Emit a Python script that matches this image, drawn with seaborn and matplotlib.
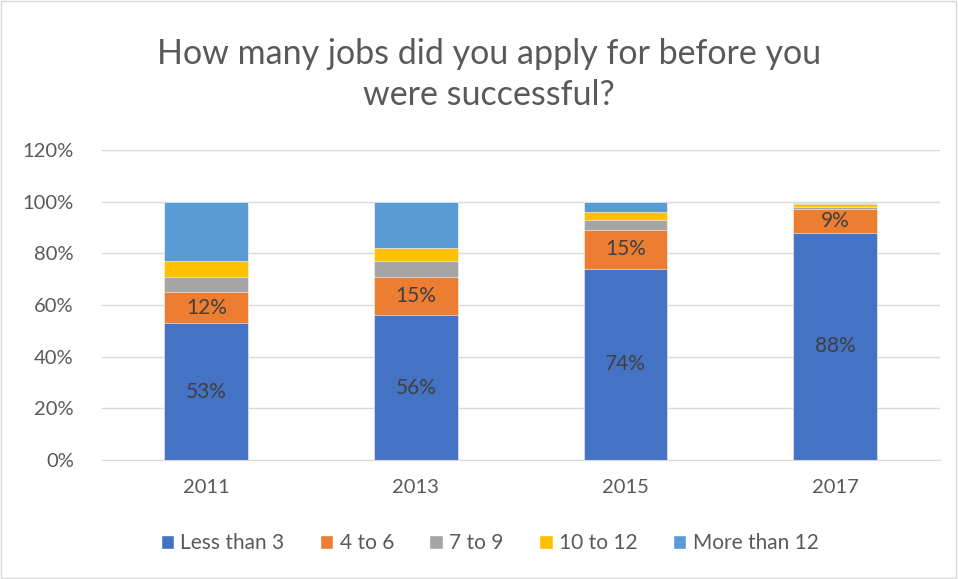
import seaborn as sns
import matplotlib.pyplot as plt
from matplotlib.patches import Rectangle, Patch
from matplotlib.ticker import PercentFormatter

years = ["2011", "2013", "2015", "2017"]
series = ["Less than 3", "4 to 6", "7 to 9", "10 to 12", "More than 12"]
less_than_3 = [53, 56, 74, 88]
four_to_6 = [12, 15, 15, 9]
seven_to_9 = [6, 6, 4, 1]
ten_to_12 = [6, 5, 3, 1]
more_than_12 = [23, 18, 4, 0.6]
values = [less_than_3, four_to_6, seven_to_9, ten_to_12, more_than_12]
labelled = [True, True, False, False, False]

COLORS = ["#4472C4", "#ED7D31", "#A5A5A5", "#FFC000", "#5B9BD5"]
TEXT = "#595959"

sns.set_style("white")
plt.rcParams["font.family"] = ["Lato", "DejaVu Sans"]

fig = plt.figure(figsize=(9.58, 5.79), dpi=100)
ax = fig.add_axes([0.106, 0.2055, 0.875, 0.5355])

# cumulative tops, drawn back to front
cums = []
running = [0] * len(years)
for vals in values:
    running = [r + v for r, v in zip(running, vals)]
    cums.append(list(running))

for i in range(len(series) - 1, -1, -1):
    sns.barplot(x=years, y=cums[i], color=COLORS[i], width=0.4, ax=ax,
                saturation=1, edgecolor="white", linewidth=0.4)

for i, vals in enumerate(values):
    if not labelled[i]:
        continue
    for j, v in enumerate(vals):
        base = cums[i][j] - v
        ax.text(j, base + v / 2, f"{v:.0f}%", ha="center", va="center",
                fontsize=15, color="#404040")

ax.set_ylim(0, 120)
ax.set_yticks(range(0, 121, 20))
ax.yaxis.set_major_formatter(PercentFormatter(decimals=0))
ax.grid(axis="y", color="#D9D9D9", linewidth=1)
ax.set_axisbelow(True)
for s in ["top", "right", "left"]:
    ax.spines[s].set_visible(False)
ax.spines["bottom"].set_color("#D9D9D9")
ax.tick_params(axis="both", length=0, labelsize=14.5, colors=TEXT, pad=14)
ax.tick_params(axis="y", pad=20)
ax.set_xlabel("")
ax.set_ylabel("")

fig.text(0.51, 0.872, "How many jobs did you apply for before you\nwere successful?",
         ha="center", va="center", fontsize=24.5, color=TEXT, linespacing=1.35)

handles = [Patch(facecolor=c, label=s) for c, s in zip(COLORS, series)]
fig.legend(handles=handles, loc="center", bbox_to_anchor=(0.511, 0.062), ncol=5,
           frameon=False, fontsize=15, handlelength=0.65, handleheight=0.65,
           handletextpad=0.3, columnspacing=1.7, labelcolor=TEXT)

fig.patches.append(Rectangle((0.001, 0.001), 0.997, 0.997, transform=fig.transFigure,
                             fill=False, edgecolor="#D9D9D9", linewidth=1))

fig.savefig("out.png", dpi=100, facecolor="white")
